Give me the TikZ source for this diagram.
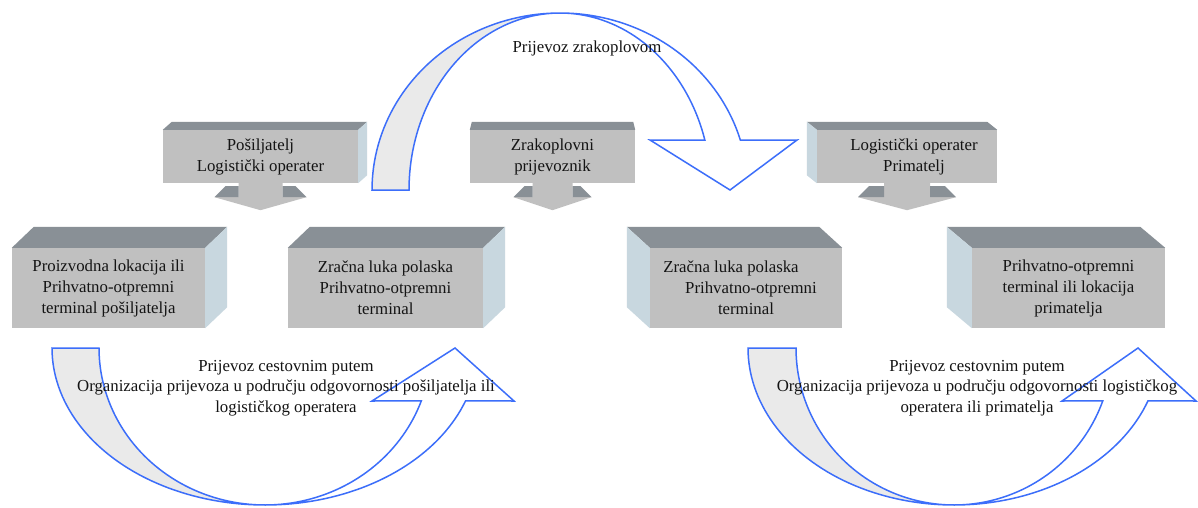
\documentclass[tikz,border=0pt]{standalone}
\usepackage{fontspec}
\setmainfont{Liberation Serif}
\usetikzlibrary{calc}
\definecolor{frontc}{RGB}{192,192,192}
\definecolor{topc}{RGB}{137,144,150}
\definecolor{sidec}{RGB}{200,215,223}
\definecolor{bluec}{RGB}{60,110,250}
\definecolor{grayc}{RGB}{234,234,234}
\definecolor{txtc}{RGB}{20,20,20}
\newcommand\cubR[3]{%
  \fill[topc] (#1.north west) -- (#1.north east) -- ($(#1.north east)+(#2,-#3)$) -- ($(#1.north west)+(#2,-#3)$) -- cycle;
  \fill[sidec] (#1.north east) -- ($(#1.north east)+(#2,-#3)$) -- ($(#1.south east)+(#2,-#3)$) -- (#1.south east) -- cycle;}
\newcommand\cubL[3]{%
  \fill[topc] (#1.north west) -- (#1.north east) -- ($(#1.north east)+(-#2,-#3)$) -- ($(#1.north west)+(-#2,-#3)$) -- cycle;
  \fill[sidec] (#1.north west) -- ($(#1.north west)+(-#2,-#3)$) -- ($(#1.south west)+(-#2,-#3)$) -- (#1.south west) -- cycle;}
\newcommand\dnarrow[3]{%
  \begin{scope}[shift={(#1.south)}]
    \fill[frontc] (-#2,0) -- (#2,0) -- (#2,14) -- (#3,14) -- (0,27) -- (-#3,14) -- (-#2,14) -- cycle;
    \fill[topc] (-#3,14) -- (-#2,14) -- (-#2,3) -- ({-#3+11},3) -- cycle;
    \fill[topc] (#2,14) -- (#3,14) -- ({#3-11},3) -- (#2,3) -- cycle;
  \end{scope}}
\begin{document}
\begin{tikzpicture}[x=1pt,y=-1pt,
  box/.style={fill=frontc, inner sep=0pt, align=center, text=txtc, font=\fontsize{16.8}{21}\selectfont},
  lbl/.style={align=center, text=txtc, font=\fontsize{16.8}{20.5}\selectfont, inner sep=0pt},
  arrowline/.style={draw=bluec, line width=1.5pt, line join=miter}]
\useasboundingbox (0,0) rectangle (1198,508);
\fill[white] (0,0) rectangle (1198,508);

% ---- top curved arrow (air transport)
\fill[white] plot[domain=180:343.6, samples=90] ({560+188*cos(\x)},{190+177*sin(\x)}) -- (797,140) -- (730,190) -- (650,140)
   -- plot[domain=343.6:180, samples=90] ({560+151*cos(\x)},{190+177*sin(\x)}) -- cycle;
\fill[grayc] plot[domain=180:270, samples=60] ({560+188*cos(\x)},{190+177*sin(\x)})
   -- plot[domain=270:180, samples=60] ({560+151*cos(\x)},{190+177*sin(\x)}) -- cycle;
\draw[arrowline] plot[domain=180:343.6, samples=90] ({560+188*cos(\x)},{190+177*sin(\x)}) -- (797,140) -- (730,190) -- (650,140)
   -- plot[domain=343.6:180, samples=90] ({560+151*cos(\x)},{190+177*sin(\x)}) -- cycle;

% ---- bottom left curved arrow
\fill[white] plot[domain=180:19.7, samples=90] ({265+213*cos(\x)},{348+157*sin(\x)}) -- (514,401) -- (455,348) -- (372,401)
   -- plot[domain=19.7:180, samples=90] ({265+166*cos(\x)},{348+157*sin(\x)}) -- cycle;
\fill[grayc] plot[domain=180:90, samples=60] ({265+213*cos(\x)},{348+157*sin(\x)})
   -- plot[domain=90:180, samples=60] ({265+166*cos(\x)},{348+157*sin(\x)}) -- cycle;
\draw[arrowline] plot[domain=180:19.7, samples=90] ({265+213*cos(\x)},{348+157*sin(\x)}) -- (514,401) -- (455,348) -- (372,401)
   -- plot[domain=19.7:180, samples=90] ({265+166*cos(\x)},{348+157*sin(\x)}) -- cycle;

% ---- bottom right curved arrow
\fill[white] plot[domain=180:19.7, samples=90] ({954+206*cos(\x)},{348+157*sin(\x)}) -- (1196,401) -- (1138,348) -- (1062,401)
   -- plot[domain=19.7:180, samples=90] ({954+158*cos(\x)},{348+157*sin(\x)}) -- cycle;
\fill[grayc] plot[domain=180:90, samples=60] ({954+206*cos(\x)},{348+157*sin(\x)})
   -- plot[domain=90:180, samples=60] ({954+158*cos(\x)},{348+157*sin(\x)}) -- cycle;
\draw[arrowline] plot[domain=180:19.7, samples=90] ({954+206*cos(\x)},{348+157*sin(\x)}) -- (1196,401) -- (1138,348) -- (1062,401)
   -- plot[domain=19.7:180, samples=90] ({954+158*cos(\x)},{348+157*sin(\x)}) -- cycle;

% ---- top row boxes
\node[box, minimum width=195pt, minimum height=53pt] (A) at (260.5,156.5) {Pošiljatelj\\Logistički operater};
\node[box, minimum width=165pt, minimum height=53pt] (B) at (552.5,156.5) {Zrakoplovni\\prijevoznik};
\node[box, minimum width=180pt, minimum height=53pt] (C) at (907,156.5) {\hspace*{14pt}Logistički operater\\\hspace*{14pt}Primatelj};
\cubR{A}{9}{8}
\cubL{C}{10}{8}
\fill[topc] (B.north west) -- (B.north east) -- ($(B.north east)+(-2,-8)$) -- ($(B.north west)+(2,-8)$) -- cycle;
\dnarrow{A}{22}{46}
\dnarrow{B}{20}{39}
\dnarrow{C}{23}{49}

% ---- bottom row boxes
\node[box, minimum width=193pt, minimum height=80pt] (P1) at (108.5,288) {Proizvodna lokacija ili\\Prihvatno-otpremni\\terminal pošiljatelja};
\node[box, minimum width=195pt, minimum height=80pt] (P2) at (385.5,288) {Zračna luka polaska\\Prihvatno-otpremni\\terminal};
\node[box, minimum width=192pt, minimum height=80pt] (P3) at (746,288) {Zračna luka polaska\rule{30pt}{0pt}\\\rule{10pt}{0pt}Prihvatno-otpremni\\terminal};
\node[box, minimum width=193pt, minimum height=80pt] (P4) at (1068.5,288) {Prihvatno-otpremni\\terminal ili lokacija\\primatelja};
\cubR{P1}{22}{21}
\cubR{P2}{22}{21}
\cubL{P3}{23}{21}
\cubL{P4}{25}{21}

% ---- labels
\node[lbl] (T1) at (587,48) {Prijevoz zrakoplovom};
\node[lbl] (L1) at (286,388) {Prijevoz cestovnim putem\\Organizacija prijevoza u području odgovornosti pošiljatelja ili\\logističkog operatera};
\node[lbl] (L2) at (977,388) {Prijevoz cestovnim putem\\Organizacija prijevoza u području odgovornosti logističkog\\operatera ili primatelja};
\end{tikzpicture}
\end{document}
